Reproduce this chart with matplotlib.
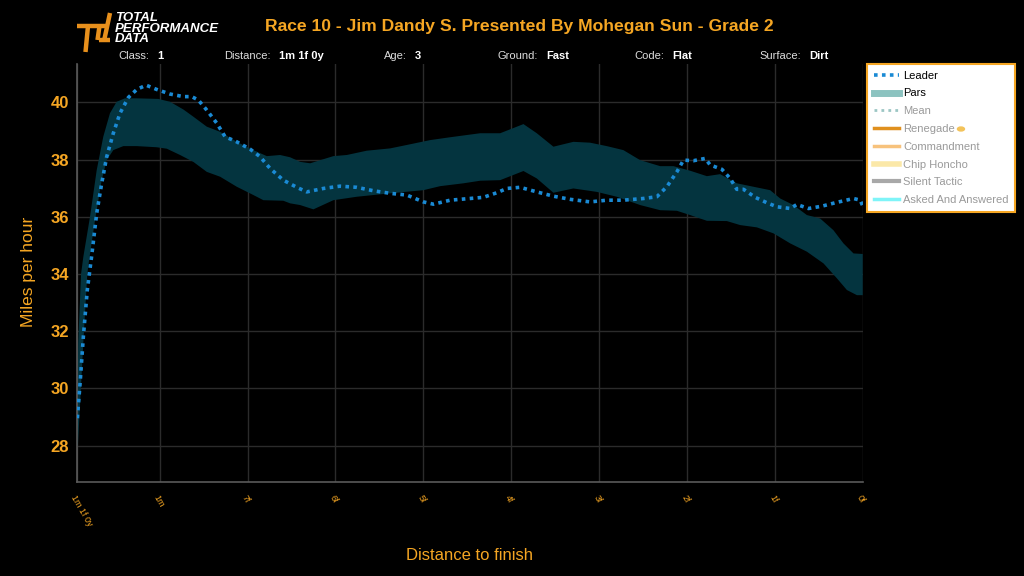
import matplotlib
matplotlib.use('Agg')
import matplotlib.pyplot as plt
from matplotlib.lines import Line2D
from matplotlib.patches import Circle

plt.rcParams['font.family'] = ['Liberation Sans', 'DejaVu Sans']

ORANGE = '#f5a623'

# Leader speed (furlongs to finish, mph)
leader_f = [8.936, 8.905, 8.868, 8.823, 8.772, 8.716, 8.659, 8.602, 8.527, 8.451,
            8.356, 8.260, 8.154, 8.033, 7.882, 7.730, 7.635, 7.560, 7.464, 7.350,
            7.256, 7.123, 6.969, 6.858, 6.744, 6.593, 6.440, 6.327, 6.138, 5.948,
            5.758, 5.569, 5.379, 5.189, 5.000, 4.886, 4.696, 4.506, 4.317, 4.165,
            4.051, 3.900, 3.710, 3.521, 3.331, 3.104, 2.914, 2.725, 2.497, 2.345,
            2.231, 2.117, 2.042, 1.928, 1.795, 1.738, 1.605, 1.511, 1.435, 1.359,
            1.226, 1.093, 0.980, 0.828, 0.752, 0.620, 0.468, 0.316, 0.108, 0.032, 0.003]
leader_mph = [28.96, 30.18, 31.80, 33.44, 34.66, 36.12, 37.17, 38.10, 38.92, 39.62,
              40.17, 40.45, 40.60, 40.45, 40.29, 40.20, 40.20, 40.08, 39.73, 39.27,
              38.80, 38.62, 38.36, 38.10, 37.69, 37.28, 37.03, 36.87, 36.99, 37.07,
              37.03, 36.91, 36.82, 36.76, 36.52, 36.44, 36.58, 36.63, 36.68, 36.84,
              36.99, 37.03, 36.87, 36.72, 36.61, 36.52, 36.58, 36.58, 36.64, 36.70,
              37.05, 37.57, 37.98, 37.96, 38.04, 37.81, 37.66, 37.34, 36.96, 36.96,
              36.68, 36.49, 36.35, 36.29, 36.43, 36.29, 36.37, 36.49, 36.64, 36.58, 36.38]

# Pars band upper edge
par_hi_f = [8.940, 8.926, 8.894, 8.868, 8.792, 8.716, 8.641, 8.565, 8.489, 8.395,
            8.262, 8.015, 7.882, 7.730, 7.617, 7.464, 7.312, 7.123, 6.934, 6.781,
            6.630, 6.516, 6.402, 6.288, 6.024, 5.871, 5.644, 5.379, 5.189, 4.924,
            4.696, 4.355, 4.127, 3.862, 3.710, 3.521, 3.294, 3.104, 2.914, 2.725,
            2.535, 2.307, 2.156, 1.966, 1.776, 1.625, 1.435, 1.246, 1.056, 0.942,
            0.791, 0.638, 0.487, 0.336, 0.222, 0.108, 0.003]
par_hi_mph = [28.00, 31.60, 34.00, 34.60, 36.00, 37.63, 38.80, 39.62, 40.02, 40.14,
              40.14, 40.12, 40.02, 39.75, 39.50, 39.15, 38.97, 38.62, 38.33, 38.12,
              38.16, 38.08, 37.92, 37.87, 38.12, 38.16, 38.31, 38.39, 38.51, 38.68,
              38.78, 38.92, 38.92, 39.24, 38.92, 38.45, 38.62, 38.59, 38.47, 38.33,
              37.98, 37.77, 37.77, 37.61, 37.42, 37.49, 37.17, 37.05, 36.93, 36.64,
              36.41, 36.06, 35.94, 35.53, 35.07, 34.72, 34.70]

# Pars band lower edge
par_lo_f = [8.930, 8.868, 8.823, 8.811, 8.735, 8.659, 8.602, 8.527, 8.413, 8.260,
            8.033, 7.919, 7.768, 7.617, 7.464, 7.312, 7.123, 6.934, 6.820, 6.593,
            6.516, 6.402, 6.251, 6.024, 5.758, 5.379, 5.000, 4.810, 4.545, 4.355,
            4.127, 3.862, 3.710, 3.521, 3.294, 3.027, 2.800, 2.535, 2.307, 2.117,
            1.966, 1.776, 1.548, 1.397, 1.207, 1.018, 0.828, 0.638, 0.449, 0.297,
            0.183, 0.069, 0.003]
par_lo_mph = [28.00, 31.60, 34.00, 34.30, 35.88, 37.28, 37.98, 38.33, 38.47, 38.47,
              38.43, 38.38, 38.16, 37.92, 37.57, 37.40, 37.05, 36.76, 36.58, 36.56,
              36.47, 36.41, 36.26, 36.58, 36.70, 36.82, 36.93, 37.07, 37.17, 37.26,
              37.28, 37.60, 37.34, 36.84, 36.99, 36.87, 36.70, 36.41, 36.23, 36.21,
              36.06, 35.86, 35.85, 35.71, 35.63, 35.42, 35.07, 34.78, 34.37, 33.85,
              33.44, 33.26, 33.26]

tick_pos = [8.94, 8, 7, 6, 5, 4, 3, 2, 1, 0]
tick_labels = ['1m 1f 0y', '1m', '7f', '6f', '5f', '4f', '3f', '2f', '1f', '0f']
y_ticks = [28, 30, 32, 34, 36, 38, 40]

info_labels = ['Class:', 'Distance:', 'Age:', 'Ground:', 'Code:', 'Surface:']
info_values = ['1', '1m 1f 0y', '3', 'Fast', 'Flat', 'Dirt']
info_x = [153, 275, 411, 542, 668, 805]

legend_names = ['Leader', 'Pars', 'Mean', 'Renegade', 'Commandment',
                'Chip Honcho', 'Silent Tactic', 'Asked And Answered']

fig = plt.figure(figsize=(10.24, 5.76), dpi=100, facecolor='black')
ax = fig.add_axes([77 / 1024, 1 - 482.3 / 576, 786 / 1024, 418.3 / 576])
ax.set_facecolor('black')

# pars band as polygon
band_x = par_hi_f + par_lo_f[::-1]
band_y = par_hi_mph + par_lo_mph[::-1]
ax.fill(band_x, band_y, color='#04343f', lw=0, zorder=2)

ax.plot(leader_f, leader_mph, color='#1a8ad4', lw=2.6,
        linestyle=(0, (1, 1.2)), zorder=3)

ax.set_xlim(8.94, 0)
ax.set_ylim(26.72, 41.34)
ax.set_xticks(tick_pos)
ax.set_xticklabels(tick_labels, rotation=-60, ha='left', va='top',
                   rotation_mode='anchor', color=ORANGE, fontsize=6.5)
ax.set_yticks(y_ticks)
ax.set_yticklabels([str(v) for v in y_ticks], color=ORANGE, fontsize=12,
                   fontweight='bold')
ax.tick_params(axis='both', length=0, pad=6)
ax.tick_params(axis='x', pad=8)
ax.grid(True, color='#2b2b2b', lw=1, zorder=0)
for s in ['top', 'right']:
    ax.spines[s].set_visible(False)
for s in ['left', 'bottom']:
    ax.spines[s].set_color('#5a5a5a')
    ax.spines[s].set_linewidth(1.2)

fig.text(470 / 1024, 1 - 556 / 576, 'Distance to finish', color=ORANGE,
         fontsize=12, ha='center', va='center')
fig.text(28 / 1024, 1 - 272 / 576, 'Miles per hour', color=ORANGE,
         fontsize=12.5, ha='center', va='center', rotation=90)

fig.text(519 / 1024, 1 - 26 / 576,
         'Race 10 - Jim Dandy S. Presented By Mohegan Sun - Grade 2',
         color=ORANGE, fontsize=12.6, fontweight='bold', ha='center', va='center')

for lab, val, xp in zip(info_labels, info_values, info_x):
    fig.text((xp - 4) / 1024, 1 - 56 / 576, lab, color='#dddddd', fontsize=8,
             ha='right', va='center')
    fig.text((xp + 4) / 1024, 1 - 56 / 576, val, color='white', fontsize=8,
             fontweight='bold', ha='left', va='center')

# logo glyph
def px(xs, ys):
    return [x / 1024 for x in xs], [1 - y / 576 for y in ys]

for xs, ys in [([77, 106], [25.5, 25.5]), ([88, 85.5], [26, 52]),
               ([110, 104], [13, 41]), ([98.5, 110], [40, 40]),
               ([99.5, 97.5], [26, 40])]:
    lx, ly = px(xs, ys)
    fig.add_artist(Line2D(lx, ly, color='#e8901c', lw=3.2, solid_capstyle='butt'))
fig.text(115 / 1024, 1 - 28.5 / 576, 'TOTAL\nPERFORMANCE\nDATA', color='white',
         fontsize=9.5, fontweight='bold', fontstyle='italic', ha='left',
         va='center', linespacing=0.78)

# legend
handles = [
    Line2D([], [], color='#1a8ad4', lw=2.6, linestyle=(0, (1, 1.2))),
    Line2D([], [], color='#8cc3c0', lw=5),
    Line2D([], [], color='#9cc6c4', lw=2, linestyle=(0, (1, 1.5))),
    Line2D([], [], color='#e0901e', lw=2.5),
    Line2D([], [], color='#f7c27c', lw=2.5),
    Line2D([], [], color='#fbe8a8', lw=4),
    Line2D([], [], color='#a8a8a8', lw=3),
    Line2D([], [], color='#7ff4f8', lw=2.5),
]
leg = fig.legend(handles, legend_names, loc='upper left',
                 bbox_to_anchor=(867 / 1024, 1 - 64 / 576), fontsize=8,
                 frameon=True, fancybox=False, framealpha=1,
                 borderaxespad=0, handlelength=2.3, handletextpad=0.36,
                 labelspacing=0.7, borderpad=0.6)
leg.get_frame().set_facecolor('white')
leg.get_frame().set_edgecolor(ORANGE)
leg.get_frame().set_linewidth(1.5)
for i, t in enumerate(leg.get_texts()):
    t.set_color('black' if i < 2 else '#9a9a9a')

fig.canvas.draw()
t = leg.get_texts()[3]
bb = t.get_window_extent()
fig.add_artist(Circle(((bb.x1 + 6) / 1024, (bb.y0 + bb.y1) / 2 / 576), 3.5 / 1024,
                      transform=fig.transFigure, color='#f3c35a', zorder=10))

fig.savefig('out.png', dpi=100, facecolor='black')
